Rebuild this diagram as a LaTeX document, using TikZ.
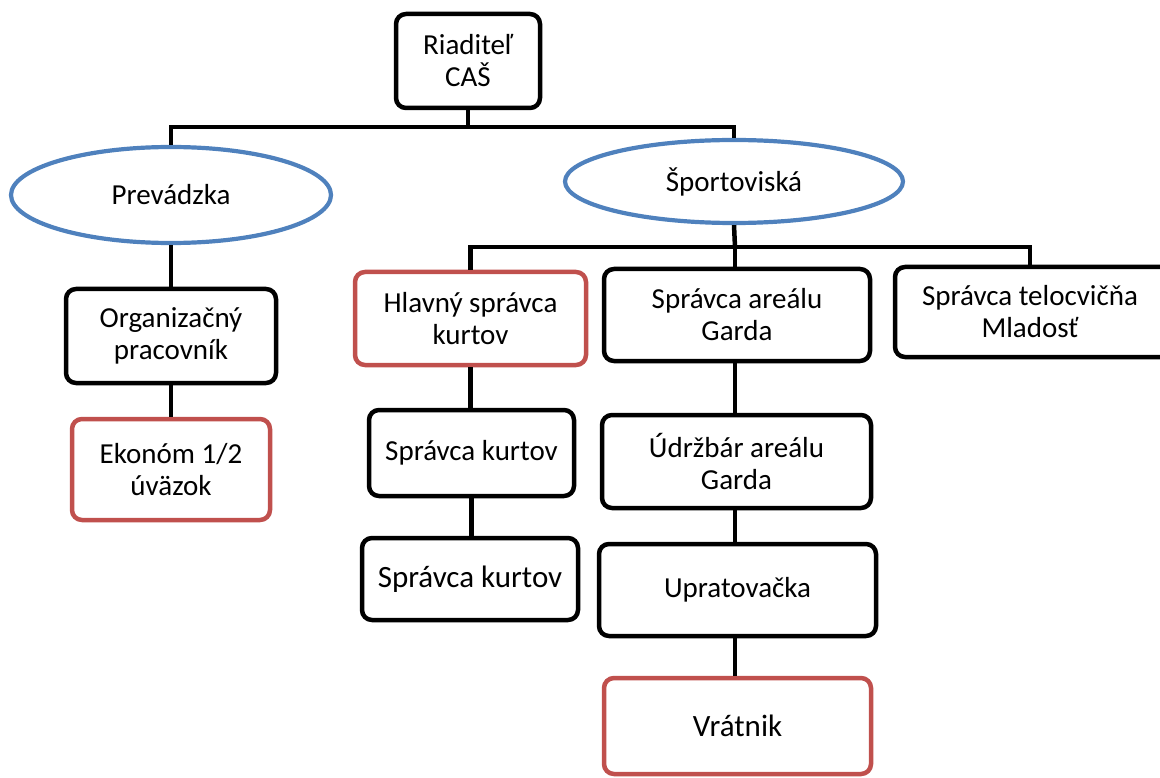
\documentclass[tikz,border=0pt]{standalone}
\usepackage{fontspec}
\setmainfont{Carlito}
\usetikzlibrary{shapes.geometric}
\definecolor{ablue}{HTML}{4F81BD}
\definecolor{ared}{HTML}{C0504D}
\tikzset{
  box/.style={draw=black, line width=4.5pt, rounded corners=10pt, align=center, inner sep=2pt,
    font=\fontsize{29}{32}\selectfont},
  redbox/.style={box, draw=ared},
  oval/.style={draw=ablue, line width=4.2pt, ellipse, inner sep=0pt, align=center,
    font=\fontsize{29}{32}\selectfont},
  conn/.style={draw=black, line width=4.5pt},
  big/.style={font=\fontsize{31}{34}\selectfont}
}
\begin{document}
\begin{tikzpicture}[x=1pt,y=-1pt]
\useasboundingbox (0,0) rectangle (1160,778);
\clip (0,0) rectangle (1160,778);
\node[box, minimum width=144pt, minimum height=94pt] (riad) at (468,61) {Riaditeľ\\CAŠ};
\node[oval, minimum width=320pt, minimum height=96pt] (prev) at (171,195) {Prevádzka};
\node[oval, minimum width=338pt, minimum height=83pt] (sport) at (734,181.5) {Športoviská};
\node[box, minimum width=210pt, minimum height=94pt] (org) at (171,336) {Organizačný\\pracovník};
\node[redbox, minimum width=198pt, minimum height=101pt] (ekon) at (171,469.5) {Ekonóm 1/2\\úväzok};
\node[redbox, minimum width=231pt, minimum height=93pt] (hlav) at (470.5,318.5) {Hlavný správca\\kurtov};
\node[box, minimum width=205pt, minimum height=86pt] (sk1) at (471.5,453) {Správca kurtov};
\node[box, big, minimum width=216pt, minimum height=82pt] (sk2) at (470,579) {Správca kurtov};
\node[box, minimum width=266pt, minimum height=92pt] (areal) at (737,315) {Správca areálu\\Garda};
\node[box, minimum width=300pt, minimum height=90pt] (mlad) at (1045,312) {Správca telocvičňa\hspace*{30pt}\\Mladosť\hspace*{30pt}};
\node[box, minimum width=269pt, minimum height=93pt] (udr) at (736.5,461.5) {Údržbár areálu\\Garda};
\node[box, minimum width=277pt, minimum height=92pt] (uprat) at (737.5,590) {Upratovačka};
\node[redbox, big, minimum width=267pt, minimum height=96pt] (vrat) at (737.5,726) {Vrátnik};
\coordinate (j1) at (468,127);
\coordinate (j2) at (735,247);
\coordinate (m1) at (1030,247);
\draw[conn] (riad.south) -- (j1);
\draw[conn] (prev.north) |- (j1) -| (sport.north);
\draw[conn] (prev.south) -- (org.north);
\draw[conn] (org.south) -- (ekon.north);
\draw[conn] (sport.south) -- (j2);
\draw[conn] (hlav.north) |- (j2);
\draw[conn] (j2) -- (j2 |- areal.north);
\draw[conn] (j2) -- (m1) -- (m1 |- mlad.north);
\draw[conn] (hlav.south) -- (hlav.south |- sk1.north);
\draw[conn] (sk1.south) -- (sk1.south |- sk2.north);
\draw[conn] (areal.south -| j2) -- (j2 |- udr.north);
\draw[conn] (udr.south -| j2) -- (j2 |- uprat.north);
\draw[conn] (uprat.south -| j2) -- (j2 |- vrat.north);
\end{tikzpicture}
\end{document}
